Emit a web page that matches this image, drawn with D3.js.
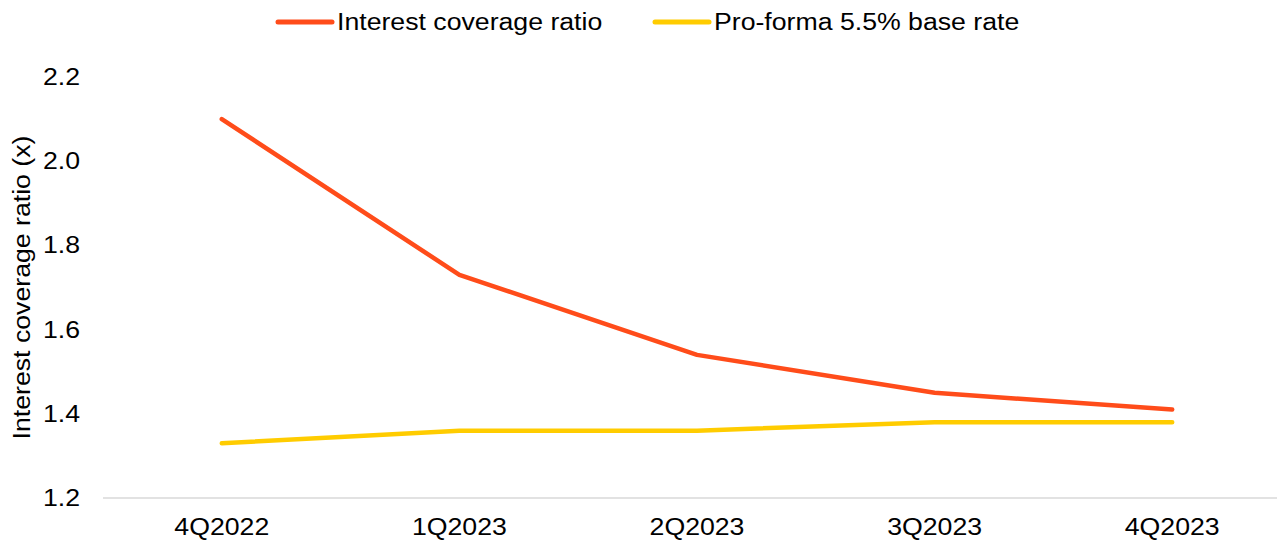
<!DOCTYPE html>
<html>
<head>
<meta charset="utf-8">
<script src="https://cdn.jsdelivr.net/npm/d3@7"></script>
<style>
  body { margin: 0; background: #fff; }
  text { font-family: "Liberation Sans", Arial, sans-serif; fill: #000; font-size: 23px; }
</style>
</head>
<body>
<div id="chart"></div>
<script>
// data
const quarters = ['4Q2022', '1Q2023', '2Q2023', '3Q2023', '4Q2023'];
const coverage = [2.10, 1.73, 1.54, 1.45, 1.41];
const proForma = [1.33, 1.36, 1.36, 1.38, 1.38];
const yTicks = [1.2, 1.4, 1.6, 1.8, 2.0, 2.2];

const series = [
  { name: 'Interest coverage ratio', values: coverage, color: '#ff4c1a' },
  { name: 'Pro-forma 5.5% base rate', values: proForma, color: '#ffcc00' },
];

// dimensions
const width = 1277;
const height = 541;
// the original text is a bit wider than Liberation Sans
const stretch = 'scale(1.16,1)';

const x = d3.scalePoint()
  .domain(quarters)
  .range([103, 1291])
  .padding(0.5);

const y = d3.scaleLinear()
  .domain([1.2, 2.2])
  .range([498, 77]);

const svg = d3.select('#chart')
  .append('svg')
  .attr('width', width)
  .attr('height', height);

// baseline
svg.append('line')
  .attr('x1', 103).attr('x2', width)
  .attr('y1', y(1.2)).attr('y2', y(1.2))
  .attr('stroke', '#d9d9d9')
  .attr('stroke-width', 1.5);

// y axis labels
svg.append('g')
  .selectAll('text')
  .data(yTicks)
  .enter().append('text')
  .attr('transform', d => `translate(80, ${y(d)}) ${stretch}`)
  .attr('dy', '0.35em')
  .attr('text-anchor', 'end')
  .text(d => d.toFixed(1));

// x axis labels
svg.append('g')
  .selectAll('text')
  .data(quarters)
  .enter().append('text')
  .attr('transform', d => `translate(${x(d)}, 535) ${stretch}`)
  .attr('text-anchor', 'middle')
  .text(d => d);

// y axis title
svg.append('text')
  .attr('transform', `translate(30, ${(y(1.2) + y(2.2)) / 2}) rotate(-90) ${stretch}`)
  .attr('text-anchor', 'middle')
  .text('Interest coverage ratio (x)');

// lines
const line = d3.line()
  .x((d, i) => x(quarters[i]))
  .y(d => y(d));

svg.append('g')
  .selectAll('path')
  .data(series)
  .enter().append('path')
  .attr('d', d => line(d.values))
  .attr('fill', 'none')
  .attr('stroke', d => d.color)
  .attr('stroke-width', 4.5)
  .attr('stroke-linecap', 'round')
  .attr('stroke-linejoin', 'round');

// legend
const legendX = [278, 655];
const lg = svg.append('g')
  .selectAll('g')
  .data(series)
  .enter().append('g')
  .attr('transform', (d, i) => `translate(${legendX[i]}, 22)`);

lg.append('line')
  .attr('x1', 0).attr('x2', 54)
  .attr('stroke', d => d.color)
  .attr('stroke-width', 5)
  .attr('stroke-linecap', 'round');

lg.append('text')
  .attr('transform', `translate(59, 0) ${stretch}`)
  .attr('dy', '0.35em')
  .text(d => d.name);
</script>
</body>
</html>
